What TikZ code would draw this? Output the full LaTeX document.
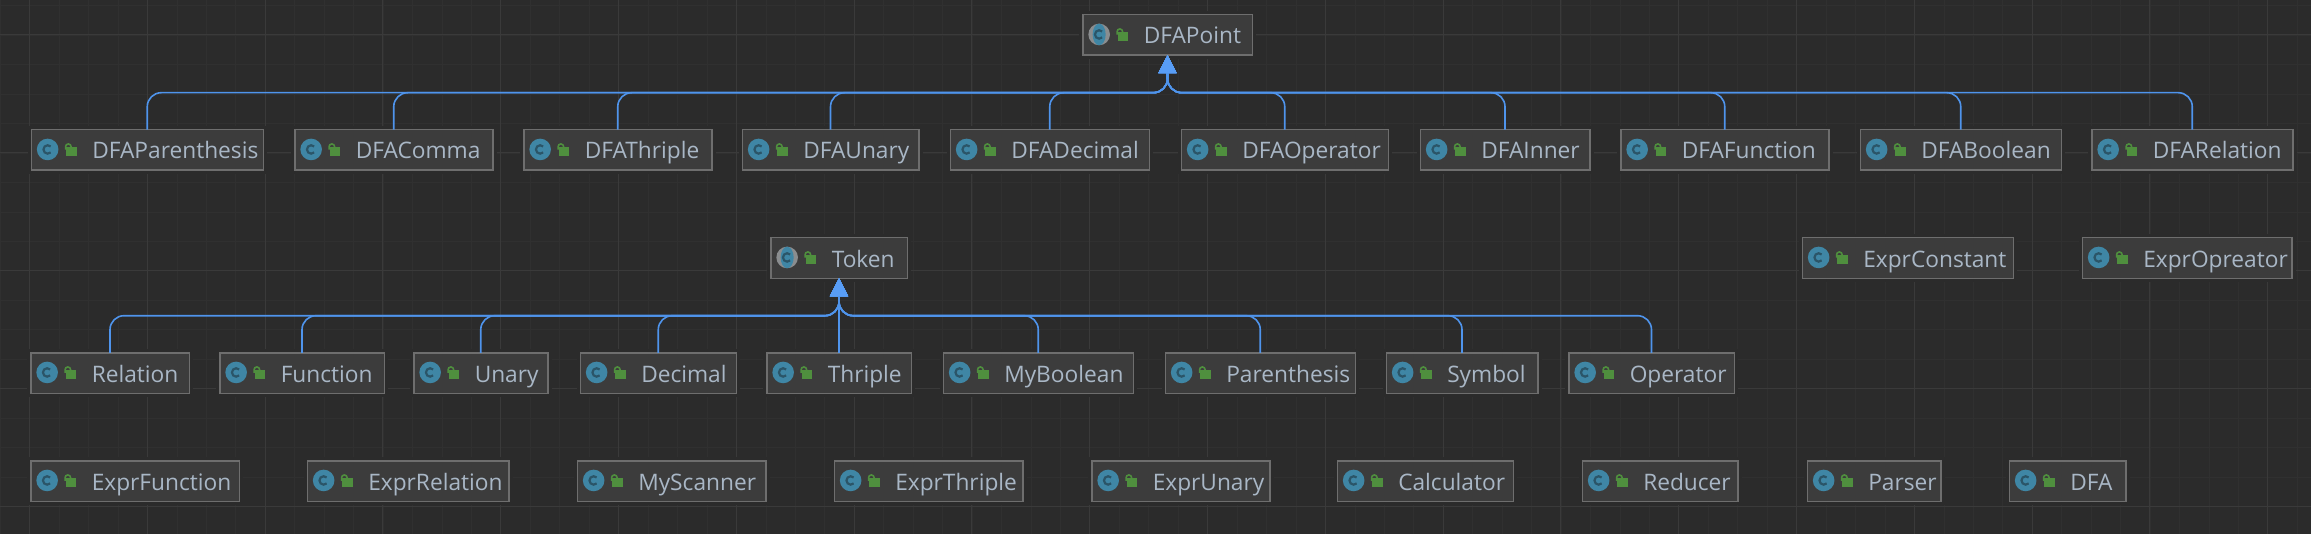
\documentclass[tikz,border=0pt]{standalone}
\usepackage{fontspec}
\setmainfont{Open Sans}
\usetikzlibrary{arrows.meta}

\definecolor{canvas}{HTML}{2B2B2B}
\definecolor{gridminor}{HTML}{303030}
\definecolor{gridmajor}{HTML}{3A3A3A}
\definecolor{boxfill}{HTML}{3C3C3C}
\definecolor{boxline}{HTML}{6E6E6E}
\definecolor{labeltext}{HTML}{A9B7C6}
\definecolor{linkblue}{HTML}{4F94EC}
\definecolor{tipblue}{HTML}{589DF6}
\definecolor{iconteal}{HTML}{3F86A5}
\definecolor{icondark}{HTML}{2B5568}
\definecolor{icongrey}{HTML}{8A8D8F}
\definecolor{lockgreen}{HTML}{4F8F3E}

\tikzset{
  classbox/.style={
    draw=boxline, fill=boxfill, line width=1.5bp, rectangle,
    preaction={draw=canvas, line width=7.5bp},
    anchor=north west, inner sep=0pt, outer sep=0pt, align=left,
    minimum height=40.5bp, text height=20bp, text depth=2bp,
    text=labeltext, font=\fontsize{22.8}{26}\selectfont
  },
  extendsedge/.style={
    draw=linkblue, line width=1.6bp,
    -{Triangle[width=18bp,length=18bp,fill=tipblue,color=tipblue]}
  },
  lockicon/.pic={
    \fill[lockgreen] (35,17.5) rectangle (45.5,26);
    \draw[lockgreen, line width=1.6bp] (34.3,20) -- (34.3,17) arc (180:360:2.8) -- (39.9,18);
  },
  classicon/.pic={
    \fill[iconteal] (16.4,19.7) circle (10.8);
    \draw[icondark, line width=2.2bp] (16.4,19.7) ++(45:4.2) arc (45:315:4.2);
    \pic {lockicon};
  },
  abstracticon/.pic={
    \fill[icongrey] (16.4,19.7) circle (10.8);
    \fill[iconteal] (16.4,19.7) ellipse (6.5 and 10.8);
    \draw[icondark, line width=2.2bp] (16.4,19.7) ++(45:4.2) arc (45:315:4.2);
    \pic {lockicon};
  }
}

\begin{document}
\begin{tikzpicture}[x=1bp, y=-1bp]
\useasboundingbox[fill=canvas] (0,0) rectangle (2311,534);

% grid
\foreach \k in {0,...,78}
  \draw[gridminor] (\k*29.45,0) -- (\k*29.45,534);
\foreach \k in {0,...,18}
  \draw[gridminor] (0,5.6+\k*29.45) -- (2311,5.6+\k*29.45);
\foreach \k in {0,...,19}
  \draw[gridmajor, line width=1bp] (29.4+\k*117.8,0) -- (29.4+\k*117.8,534);
\foreach \k in {0,...,4}
  \draw[gridmajor, line width=1bp] (0,35+\k*117.8) -- (2311,35+\k*117.8);

% abstract parents
\foreach \id/\xa/\xb/\yt/\lab in {
  dfaPoint/1082/1253/14/DFAPoint,
  token/770/908/237/Token}
{
  \pgfmathsetmacro\wdth{\xb-\xa-1.5}
  \node[classbox, text width=\wdth bp] (\id) at (\xa+.75,\yt+.75) {\hspace*{61bp}\mbox{\lab}};
  \pic at (\id.north west) {abstracticon};
}

% plain classes
\foreach \id/\xa/\xb/\yt/\lab in {
  dfaParenthesis/30.5/264/129/DFAParenthesis,
  dfaComma/294/493.5/129/DFAComma,
  dfaThriple/523/712.5/129/DFAThriple,
  dfaUnary/741.5/919.5/129/DFAUnary,
  dfaDecimal/949.5/1150/129/DFADecimal,
  dfaOperator/1180.5/1389/129/DFAOperator,
  dfaInner/1419.5/1590.5/129/DFAInner,
  dfaFunction/1620/1829.5/129/DFAFunction,
  dfaBoolean/1859.5/2062/129/DFABoolean,
  dfaRelation/2091/2293.5/129/DFARelation,
  exprConstant/1801.5/2014/237/ExprConstant,
  exprOpreator/2081.5/2292.5/237/ExprOpreator,
  relation/30/190/352/Relation,
  function/219/385/352/Function,
  unary/413/548.5/352/Unary,
  decimal/579.5/737/352/Decimal,
  thriple/766/912/352/Thriple,
  myBoolean/942.5/1134/352/MyBoolean,
  parenthesis/1164.5/1356/352/Parenthesis,
  symbol/1385.5/1538.5/352/Symbol,
  operator/1568/1735/352/Operator,
  exprFunction/30/240/460/ExprFunction,
  exprRelation/306.5/509.5/460/ExprRelation,
  myScanner/576.5/766.5/460/MyScanner,
  exprThriple/833.5/1023.5/460/ExprThriple,
  exprUnary/1091/1270.5/460/ExprUnary,
  calculator/1336.5/1514/460/Calculator,
  reducer/1581.5/1738.5/460/Reducer,
  parser/1806.5/1941.5/460/Parser,
  dfa/2008.5/2126.5/460/DFA}
{
  \pgfmathsetmacro\wdth{\xb-\xa-1.5}
  \node[classbox, text width=\wdth bp] (\id) at (\xa+.75,\yt+.75) {\hspace*{61bp}\mbox{\lab}};
  \pic at (\id.north west) {classicon};
}

% inheritance
\coordinate (pointBus) at (dfaPoint.south |- 0,92.7);
\coordinate (tokenBus) at (token.south |- 0,315.7);
\foreach \kid in {dfaParenthesis,dfaComma,dfaThriple,dfaUnary,dfaDecimal,
                  dfaOperator,dfaInner,dfaFunction,dfaBoolean,dfaRelation}
  \draw[extendsedge, rounded corners=14bp] (\kid.north) |- (pointBus) -- (dfaPoint.south);
\foreach \kid in {relation,function,unary,decimal,myBoolean,parenthesis,symbol,operator}
  \draw[extendsedge, rounded corners=14bp] (\kid.north) |- (tokenBus) -- (token.south);
\draw[extendsedge] (thriple.north) -- (token.south);
\end{tikzpicture}
\end{document}
